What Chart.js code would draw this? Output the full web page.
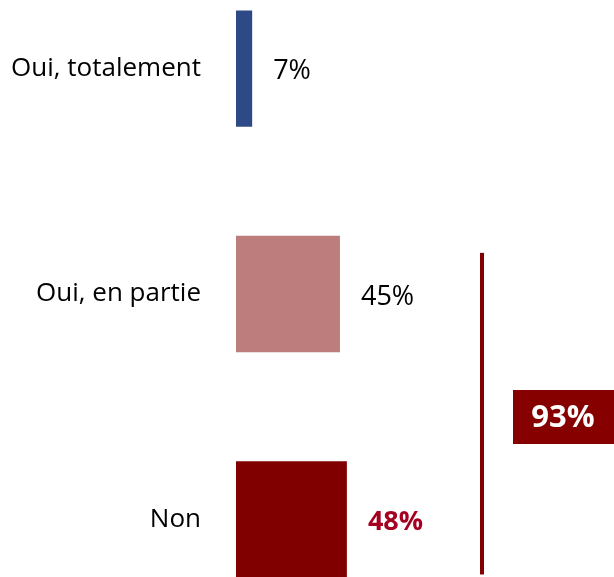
<!DOCTYPE html>
<html>
<head>
<meta charset="utf-8">
<script src="https://cdn.jsdelivr.net/npm/chart.js@4.4.0/dist/chart.umd.min.js"></script>
<style>
  html, body { margin: 0; padding: 0; background: #fff; overflow: hidden; width: 614px; height: 577px; }
  #barChart { position: absolute; left: 0; top: -44px; }
</style>
</head>
<body>
<canvas id="barChart" width="614" height="676"></canvas>
<script>
let categories = ["Oui, totalement", "Oui, en partie", "Non"];
let values = [7, 45, 48];
let barColors = ["#2E4A86", "#BE7D7D", "#800000"];
let valueLabelColors = ["#000000", "#000000", "#A50021"];
let valueLabelBold = [false, false, true];
let bracketGroup = [1, 2]; // "Oui, en partie" + "Non"

let FONT = "'Open Sans', 'Noto Sans', sans-serif";

// value labels at the end of each bar
let valueLabels = {
    id: 'valueLabels',
    afterDatasetsDraw(chart) {
        let ctx = chart.ctx;
        let meta = chart.getDatasetMeta(0);
        ctx.save();
        ctx.textBaseline = 'middle';
        ctx.textAlign = 'left';
        meta.data.forEach((bar, i) => {
            ctx.font = (valueLabelBold[i] ? 'bold ' : '') + '27px ' + FONT;
            ctx.fillStyle = valueLabelColors[i];
            ctx.fillText(values[i] + '%', bar.x + 21, bar.y + 3);
        });
        ctx.restore();
    }
};

// bracket line + total box
let bracket = {
    id: 'bracket',
    afterDraw(chart) {
        let ctx = chart.ctx;
        let meta = chart.getDatasetMeta(0);
        let first = meta.data[bracketGroup[0]];
        let last = meta.data[bracketGroup[bracketGroup.length - 1]];
        let total = bracketGroup.reduce((s, i) => s + values[i], 0);
        let top = first.y - first.height / 2 + 17;
        let bottom = last.y + last.height / 2 - 3;
        ctx.save();
        ctx.fillStyle = '#800000';
        ctx.fillRect(480, top, 4, bottom - top);
        let mid = 417 + 44;
        ctx.fillStyle = '#870000';
        ctx.fillRect(513, mid - 27, 101, 54);
        ctx.fillStyle = '#ffffff';
        ctx.font = 'bold 31px ' + FONT;
        ctx.textAlign = 'center';
        ctx.textBaseline = 'middle';
        ctx.fillText(total + '%', 563, mid + 1);
        ctx.restore();
    }
};

window.onload = function () {
    let ctx = document.getElementById("barChart").getContext("2d");
    window.myBar = new Chart(ctx, {
        type: 'bar',
        data: {
            labels: categories,
            datasets: [{
                data: values,
                backgroundColor: barColors,
                barPercentage: 1,
                categoryPercentage: 0.516
            }]
        },
        options: {
            indexAxis: 'y',
            responsive: false,
            animation: false,
            layout: { padding: { left: 0, right: 147, top: 0, bottom: 0 } },
            plugins: {
                legend: { display: false },
                tooltip: { enabled: false }
            },
            scales: {
                x: {
                    display: false,
                    min: 0,
                    max: 100
                },
                y: {
                    grid: { display: false },
                    border: { display: false },
                    afterFit(scale) {
                        scale.width = 236;
                        scale.paddingTop = 0;
                        scale.paddingBottom = 0;
                    },
                    ticks: {
                        padding: 27,
                        color: '#000000',
                        font: { family: FONT, size: 26 }
                    }
                }
            }
        },
        plugins: [valueLabels, bracket]
    });
};
</script>
</body>
</html>
